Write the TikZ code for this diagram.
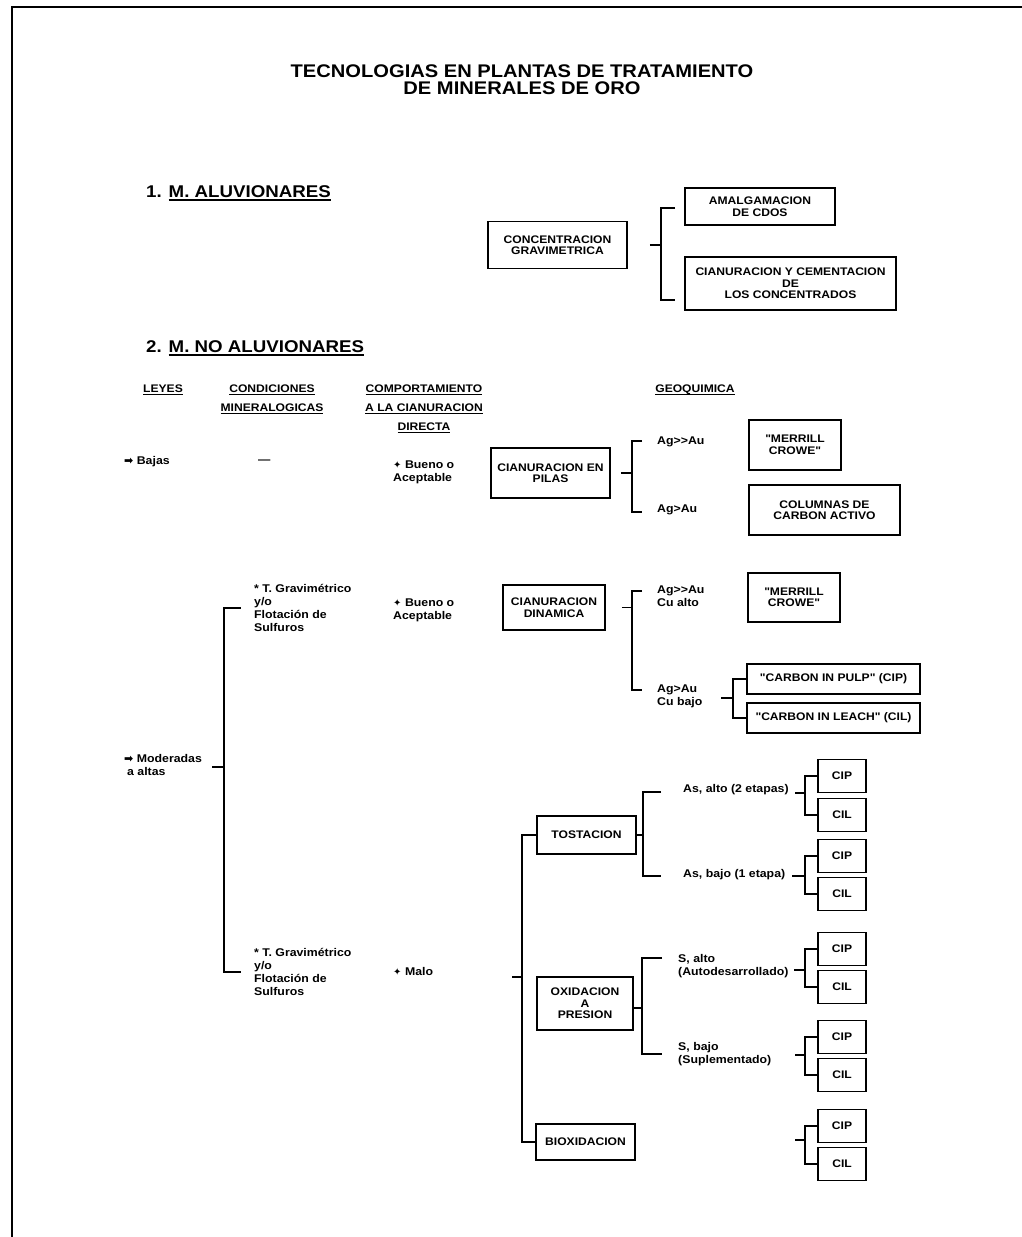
\documentclass[tikz,border=0pt]{standalone}
\usepackage{fontspec}
\setmainfont{Liberation Sans}[FakeStretch=1.1,Ligatures=TeXOff]
\newfontfamily\symfont{DejaVu Sans}
\newcommand{\arrsym}{{\symfont\fontsize{11}{11}\selectfont ➡}}
\newcommand{\diasym}{{\symfont\fontsize{10}{10}\selectfont ✦}}
\newcommand{\myul}[1]{\sbox0{#1}\rlap{\rule[-2.8pt]{\wd0}{0.9pt}}\usebox0}
\newcommand{\thickul}[1]{\sbox0{#1}\rlap{\rule[-4pt]{\wd0}{1.6pt}}\usebox0}
\begin{document}
\begin{tikzpicture}[x=1pt,y=-1pt,
  conn/.style={line width=1.2pt},
  bx/.style={draw,line width=1.5pt,inner sep=0pt,align=center,font=\fontsize{11}{11.5}\selectfont\bfseries},
  cbox/.style={bx,minimum width=48pt,minimum height=33pt},
  lbl/.style={anchor=west,inner sep=0pt,align=left,font=\fontsize{11.2}{12.8}\selectfont\bfseries},
  hdr/.style={inner sep=0pt,align=center,font=\fontsize{11}{19}\selectfont\bfseries},
  sec/.style={anchor=base west,inner sep=0pt,font=\fontsize{17}{17}\selectfont\bfseries}]
\useasboundingbox (0,0) rectangle (1022,1237);
\fill[white] (0,0) rectangle (1022,1237);
\draw[line width=1.2pt] (12,1237) -- (12,7) -- (1022,7);

% title
\node[align=center,inner sep=0pt,font=\fontsize{18.3}{17}\selectfont\bfseries] (title) at (522,80)
  {TECNOLOGIAS EN PLANTAS DE TRATAMIENTO\\DE MINERALES DE ORO};

% section 1
\node[sec] (s1) at (146,197) {1. \thickul{M. ALUVIONARES}};
\node[bx,minimum width=139pt,minimum height=47pt] (conc) at (557.5,245) {CONCENTRACION\\GRAVIMETRICA};
\node[bx,minimum width=150pt,minimum height=37pt] (amal) at (760,206.5) {AMALGAMACION\\DE CDOS};
\node[bx,minimum width=211pt,minimum height=53pt] (cian) at (790.5,283.5) {CIANURACION Y CEMENTACION\\DE\\LOS CONCENTRADOS};
\coordinate (k1) at (661,245);
\coordinate (k1t) at (675,208);
\coordinate (k1b) at (675,300);
\draw[conn] ([xshift=22pt]conc.east) -- (k1);
\draw[conn] (k1t) -| (k1) |- (k1b);

% section 2
\node[sec] (s2) at (146,352) {2. \thickul{M. NO ALUVIONARES}};
\node[hdr] (h1) at (163,390) {\myul{LEYES}};
\node[hdr] (h2) at (272,399.5) {\myul{CONDICIONES}\\\myul{MINERALOGICAS}};
\node[hdr] (h3) at (424,409) {\myul{COMPORTAMIENTO}\\\myul{A LA CIANURACION}\\\myul{DIRECTA}};
\node[hdr] (h4) at (695,390) {\myul{GEOQUIMICA}};

% row Bajas
\node[lbl] (bajas) at (124,462) {\arrsym\ Bajas};
\node[lbl] (dash) at (258,462) {—};
\node[lbl] (bueno1) at (393,472) {\diasym\ Bueno o\\Aceptable};
\node[bx,minimum width=119pt,minimum height=50pt] (pilas) at (550.5,473) {CIANURACION EN\\PILAS};
\node[lbl] (g1) at (657,442) {Ag>>Au};
\node[lbl] (g2) at (657,510) {Ag>Au};
\node[bx,minimum width=92pt,minimum height=50pt] (mc1) at (795,445) {"MERRILL\\CROWE"};
\node[bx,minimum width=151pt,minimum height=50pt] (col) at (824.5,510) {COLUMNAS DE\\CARBON ACTIVO};
\coordinate (k2) at (632,473);
\coordinate (k2t) at (642,441);
\coordinate (k2b) at (642,512);
\draw[conn] ([xshift=10pt]pilas.east) -- (k2);
\draw[conn] (k2t) -| (k2) |- (k2b);

% row Moderadas
\node[lbl] (mod) at (124,765) {\arrsym\ Moderadas\\\hspace{3pt}a altas};
\node[lbl] (cond1) at (254,608) {* T. Gravimétrico\\y/o\\Flotación de\\Sulfuros};
\node[lbl] (cond2) at (254,972) {* T. Gravimétrico\\y/o\\Flotación de\\Sulfuros};
\coordinate (k3a) at (212,767);
\coordinate (k3) at (224,767);
\draw[conn] (k3a) -- (k3);
\draw[conn] (k3) |- ([xshift=-13pt]cond1.west);
\draw[conn] (k3) |- ([xshift=-13pt]cond2.west);

% dinamica branch
\node[lbl] (bueno2) at (393,610) {\diasym\ Bueno o\\Aceptable};
\node[bx,minimum width=102pt,minimum height=45pt] (din) at (554,607.5) {CIANURACION\\DINAMICA};
\node[lbl] (g3) at (657,596.5) {Ag>>Au\\Cu alto};
\node[lbl] (g4) at (657,696.5) {Ag>Au\\Cu bajo};
\node[bx,minimum width=92pt,minimum height=49pt] (mc2) at (794,597.5) {"MERRILL\\CROWE"};
\node[bx,minimum width=173pt,minimum height=30pt] (pulp) at (833.5,679) {"CARBON IN PULP" (CIP)};
\node[bx,minimum width=173pt,minimum height=30pt] (leach) at (833.5,718) {"CARBON IN LEACH" (CIL)};
\coordinate (k4) at (632,607.5);
\coordinate (k4t) at (642,591);
\coordinate (k4b) at (642,690);
\draw[conn] ([xshift=16pt]din.east) -- (k4);
\draw[conn] (k4t) -| (k4) |- (k4b);
\coordinate (k5a) at (721,698);
\coordinate (k5) at (733,698);
\draw[conn] (k5a) -- (k5);
\draw[conn] (k5) |- (pulp.west);
\draw[conn] (k5) |- (leach.west);

% malo branch
\node[lbl] (malo) at (393,972) {\diasym\ Malo};
\node[bx,minimum width=99pt,minimum height=38pt] (tost) at (586.5,835) {TOSTACION};
\node[bx,minimum width=96pt,minimum height=53pt] (oxid) at (585,1003.5) {OXIDACION\\A\\PRESION};
\node[bx,minimum width=99pt,minimum height=36pt] (bio) at (585.5,1142) {BIOXIDACION};
\coordinate (k6a) at (512,977);
\coordinate (k6) at (522,977);
\draw[conn] (k6a) -- (k6);
\draw[conn] (k6) |- (tost.west);
\draw[conn] (k6) |- (bio.west);

% tostacion
\node[lbl] (asa) at (683,790) {As, alto (2 etapas)};
\node[lbl] (asb) at (683,875) {As, bajo (1 etapa)};
\coordinate (k7) at (643,835);
\coordinate (k7t) at (661,792);
\coordinate (k7b) at (661,876);
\draw[conn] (tost.east) -- (k7);
\draw[conn] (k7t) -| (k7) |- (k7b);

% oxidacion
\node[lbl] (sa) at (678,966) {S, alto\\(Autodesarrollado)};
\node[lbl] (sb) at (678,1054) {S, bajo\\(Suplementado)};
\coordinate (k10) at (642,1008);
\coordinate (k10t) at (662,958);
\coordinate (k10b) at (662,1054);
\draw[conn] (oxid.east |- k10) -- (k10);
\draw[conn] (k10t) -| (k10) |- (k10b);

% CIP / CIL boxes
\node[cbox] (cip1) at (842,776) {CIP};
\node[cbox] (cil1) at (842,815) {CIL};
\node[cbox] (cip2) at (842,856) {CIP};
\node[cbox] (cil2) at (842,894) {CIL};
\node[cbox] (cip3) at (842,949) {CIP};
\node[cbox] (cil3) at (842,987) {CIL};
\node[cbox] (cip4) at (842,1037) {CIP};
\node[cbox] (cil4) at (842,1075) {CIL};
\node[cbox] (cip5) at (842,1126) {CIP};
\node[cbox] (cil5) at (842,1164) {CIL};

\coordinate (k8a) at (795,793);  \coordinate (k8) at (805,793);
\coordinate (k9a) at (792,876);  \coordinate (k9) at (805,876);
\coordinate (k11a) at (794,970); \coordinate (k11) at (805,970);
\coordinate (k12a) at (795,1055); \coordinate (k12) at (805,1055);
\coordinate (k13a) at (795,1140); \coordinate (k13) at (805,1140);
\draw[conn] (k8a) -- (k8);  \draw[conn] (k8) |- (cip1.west);  \draw[conn] (k8) |- (cil1.west);
\draw[conn] (k9a) -- (k9);  \draw[conn] (k9) |- (cip2.west);  \draw[conn] (k9) |- (cil2.west);
\draw[conn] (k11a) -- (k11); \draw[conn] (k11) |- (cip3.west); \draw[conn] (k11) |- (cil3.west);
\draw[conn] (k12a) -- (k12); \draw[conn] (k12) |- (cip4.west); \draw[conn] (k12) |- (cil4.west);
\draw[conn] (k13a) -- (k13); \draw[conn] (k13) |- (cip5.west); \draw[conn] (k13) |- (cil5.west);
\end{tikzpicture}
\end{document}
